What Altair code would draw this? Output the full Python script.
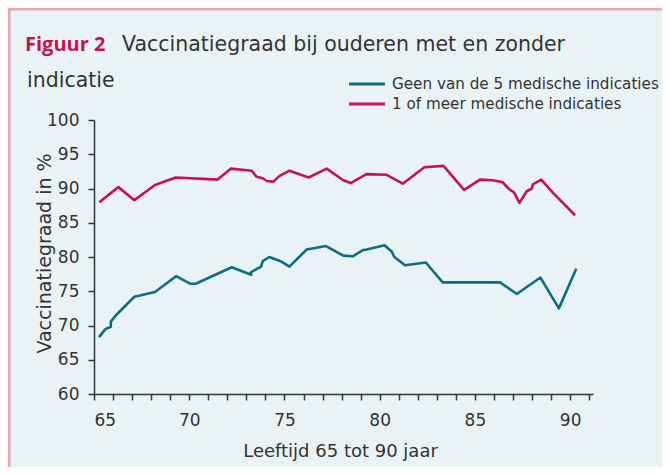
import altair as alt
import pandas as pd

# --- data ---
series_names = ["Geen van de 5 medische indicaties", "1 of meer medische indicaties"]
series_colors = ["#0b6f80", "#c8124c"]

geen_age = [65.26, 65.61, 65.88, 65.89, 66.19, 67.12, 68.2, 69.31, 70.04, 70.34,
            72.23, 73.25, 73.25, 73.77, 73.86, 74.21, 74.86, 75.26, 76.17, 77.18,
            78.09, 78.59, 79.11, 79.32, 80.25, 80.63, 80.77, 81.33, 82.42, 83.31,
            86.32, 87.2, 88.44, 89.41, 90.32]
geen_val = [68.3, 69.5, 69.8, 70.6, 71.6, 74.2, 74.9, 77.2, 76.1, 76.1,
            78.5, 77.4, 77.8, 78.6, 79.4, 80.0, 79.3, 78.6, 81.1, 81.6,
            80.2, 80.1, 81.0, 81.1, 81.7, 80.8, 80.0, 78.8, 79.2, 76.3,
            76.3, 74.6, 77.0, 72.5, 78.3]

meer_age = [65.28, 66.28, 67.12, 68.2, 69.29, 71.49, 72.18, 73.28, 73.54, 73.86,
            74.07, 74.42, 74.73, 75.26, 76.27, 77.22, 78.09, 78.48, 79.3, 80.37,
            81.21, 82.35, 83.35, 84.43, 85.27, 85.94, 86.46, 86.76, 87.06, 87.34,
            87.72, 87.99, 88.04, 88.48, 89.09, 90.26]
meer_val = [88.0, 90.2, 88.3, 90.5, 91.6, 91.3, 92.9, 92.6, 91.7, 91.5,
            91.1, 91.0, 91.8, 92.6, 91.6, 92.9, 91.2, 90.8, 92.1, 92.0,
            90.7, 93.1, 93.3, 89.8, 91.3, 91.2, 90.9, 90.0, 89.4, 87.9,
            89.6, 90.0, 90.6, 91.3, 89.4, 86.1]

x_ticks = list(range(65, 92))
y_ticks = [60, 65, 70, 75, 80, 85, 90, 95, 100]

title_bold = "Figuur 2"
title_rest = "Vaccinatiegraad bij ouderen met en zonder"
title_line2 = "indicatie"
x_title = "Leeftijd 65 tot 90 jaar"
y_title = "Vaccinatiegraad in %"

FONT = "DejaVu Sans"
TEXT = "#333333"
W, H = 499, 274
PL, PT, PR, PB = 86, 112, 69, 73

rows = []
for i, (a, v) in enumerate(zip(geen_age, geen_val)):
    rows.append({"age": a, "val": v, "serie": series_names[0], "idx": i})
for i, (a, v) in enumerate(zip(meer_age, meer_val)):
    rows.append({"age": a, "val": v, "serie": series_names[1], "idx": i})
df = pd.DataFrame(rows)

lines = alt.Chart(df).mark_line(strokeWidth=2.6, strokeJoin="round").encode(
    x=alt.X("age:Q", scale=alt.Scale(domain=[65, 91.2], nice=False, zero=False),
            axis=alt.Axis(values=x_ticks, title=x_title,
                          labelExpr="datum.value % 5 == 0 ? datum.label : ''",
                          tickSize=6, labelPadding=12, grid=False,
                          titleX=246, titleY=57, titleBaseline="middle",
                          titleFontSize=18)),
    y=alt.Y("val:Q", scale=alt.Scale(domain=[60, 100], nice=False, zero=False),
            axis=alt.Axis(values=y_ticks, title=y_title, tickSize=6, labelPadding=9,
                          grid=False, titleX=-50, titleY=133, titleBaseline="middle",
                          titleAngle=270, titleAlign="center", titleFontSize=19)),
    color=alt.Color("serie:N", scale=alt.Scale(domain=series_names, range=series_colors),
                    legend=None),
    order="idx:Q",
    detail="serie:N",
)

def txt(s, x, y, size, color=TEXT, weight="normal", baseline="alphabetic", font=FONT):
    return alt.Chart(pd.DataFrame({"t": [s]})).mark_text(
        align="left", baseline=baseline, font=font, fontSize=size,
        fontWeight=weight, color=color
    ).encode(text="t:N", x=alt.value(x), y=alt.value(y))

def seg(x1, x2, y, color, w):
    return alt.Chart(pd.DataFrame({"a": [0]})).mark_rule(
        color=color, strokeWidth=w
    ).encode(x=alt.value(x1), x2=alt.value(x2), y=alt.value(y))

layers = [lines,
          txt(title_bold, -69, -69, 20, color=series_colors[1], weight="bold", font="Open Sans"),
          txt(title_rest, 28, -69, 20.5),
          txt(title_line2, -67, -33, 20.5),
          seg(255, 291, -36, series_colors[0], 2.8),
          seg(255, 291, -16, series_colors[1], 2.8),
          txt(series_names[0], 298, -36, 15.2, baseline="middle"),
          txt(series_names[1], 298, -16, 15.2, baseline="middle"),
          ]

border_top = alt.Chart(pd.DataFrame({"a": [0]})).mark_rule(color="#eea6a6", strokeWidth=3).encode(
    x=alt.value(-PL), x2=alt.value(W + PR), y=alt.value(-PT + 1))
border_left = alt.Chart(pd.DataFrame({"a": [0]})).mark_rule(color="#eea6a6", strokeWidth=3).encode(
    x=alt.value(-PL + 1), y=alt.value(-PT), y2=alt.value(H + PB))
layers += [border_top, border_left]

chart = alt.layer(*layers).properties(
    width=W, height=H,
    padding={"left": PL, "top": PT, "right": PR, "bottom": PB},
    autosize=alt.AutoSizeParams(type="none"),
    background="#e9f3f6",
).configure_view(stroke=None).configure_axis(
    domainColor=TEXT, domainWidth=1.5, tickColor=TEXT, tickWidth=1.5,
    labelFont=FONT, labelFontSize=17, labelColor=TEXT,
    titleFont=FONT, titleColor=TEXT, titleFontWeight="normal",
)

chart.save("out.html", embed_options={"renderer": "svg", "actions": False})
